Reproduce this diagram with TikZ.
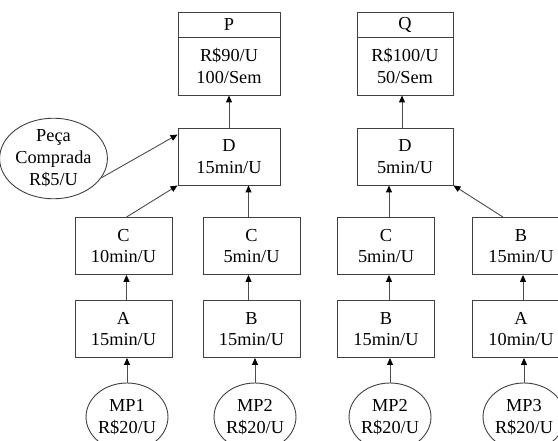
\documentclass[tikz,border=0pt]{standalone}
\usepackage{fontspec}
\setmainfont{Liberation Serif}
\usetikzlibrary{shapes.geometric,arrows.meta}
\begin{document}
\begin{tikzpicture}[x=1pt,y=-1pt,
  every node/.style={font=\fontsize{18.3}{21.8}\selectfont, text=black},
  opbox/.style={draw=black!75, line width=0.9pt, rectangle, align=center,
    inner sep=0pt, minimum width=97pt, minimum height=57pt},
  headbox/.style={draw=black!75, line width=0.9pt, rectangle, align=center,
    inner sep=0pt, minimum width=102pt},
  supply/.style={draw=black!75, line width=0.9pt, ellipse, align=center,
    inner sep=0pt, minimum width=78pt, minimum height=68pt},
  flow/.style={draw=black!70, line width=0.9pt,
    -{Triangle[length=7pt,width=6pt,color=black]}}
]
\useasboundingbox (0,0) rectangle (558,441);
\clip (0,0) rectangle (558,441);

% ---- product P ----
\node[headbox, minimum height=25pt] (Ph) at (229,24.5) {P};
\node[headbox, minimum height=58pt] (Pb) at (229,66) {R\$90/U\\100/Sem};
\node[opbox, minimum width=102pt] (D1) at (229,156.5) {D\\15min/U};
\node[draw=black!75, line width=0.9pt, ellipse, align=center, inner sep=0pt,
  minimum width=87pt, minimum height=73pt] (peca) at (53.5,158.5)
  {Peça\\Comprada\\R\$5/U};
\node[opbox] (C1) at (123.5,246) {C\\10min/U};
\node[opbox] (C2) at (251.5,246) {C\\5min/U};
\node[opbox] (A1) at (123.5,329) {A\\15min/U};
\node[opbox] (B2) at (251.5,329) {B\\15min/U};
\node[supply] (M1) at (127,417) {MP1\\R\$20/U};
\node[supply] (M2) at (255,417) {MP2\\R\$20/U};

% ---- product Q ----
\node[headbox, minimum width=96pt, minimum height=25pt] (Qh) at (405,24.5) {Q};
\node[headbox, minimum width=96pt, minimum height=58pt] (Qb) at (405,66) {R\$100/U\\50/Sem};
\node[opbox, minimum width=96pt] (D2) at (405,156.5) {D\\5min/U};
\node[opbox] (C3) at (386,246) {C\\5min/U};
\node[opbox] (B4) at (521,246) {B\\15min/U};
\node[opbox] (B3) at (386,329) {B\\15min/U};
\node[opbox] (A4) at (521,329) {A\\10min/U};
\node[supply] (M3) at (390,417) {MP2\\R\$20/U};
\node[supply] (M4) at (524,417) {MP3\\R\$20/U};

% ---- flows, left tree ----
\draw[flow] (D1) -- (Pb);
\draw[flow] (peca.-22) -- ([yshift=-7pt]D1.north west);
\draw[flow] (C1.north) ++(3,0) -- (D1.south west);
\draw[flow] (C2.north) ++(-3,0) -- ([xshift=-3pt]C2.north |- D1.south);
\draw[flow] (A1.north) ++(3,0) -- ([xshift=3pt]A1.north |- C1.south);
\draw[flow] (M2.north) -- (M2.north |- B2.south);
\draw[flow] (M1.north) -- (M1.north |- A1.south);
\draw[flow] (B2.north) ++(-3,0) -- ([xshift=-3pt]B2.north |- C2.south);

% ---- flows, right tree ----
\draw[flow] (D2.north) ++(-3,0) -- ([xshift=-3pt]D2.north |- Qb.south);
\draw[flow] (C3.north) ++(3,0) -- ([xshift=3pt]C3.north |- D2.south);
\draw[flow] (B4.north) ++(-18,0) -- (D2.south east);
\draw[flow] (B3.north) ++(3,0) -- ([xshift=3pt]B3.north |- C3.south);
\draw[flow] (M3.north) -- (M3.north |- B3.south);
\draw[flow] (A4.north) ++(2,0) -- ([xshift=2pt]A4.north |- B4.south);
\draw[flow] (M4.north) -- (M4.north |- A4.south);
\end{tikzpicture}
\end{document}
